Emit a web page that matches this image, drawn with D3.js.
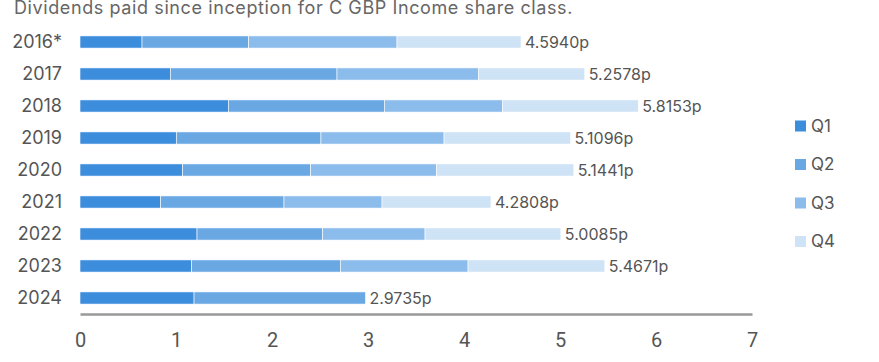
<!DOCTYPE html>
<html>
<head>
<meta charset="utf-8">
<script src="https://cdn.jsdelivr.net/npm/d3@7"></script>
<style>
  body { margin: 0; background: #fff; }
  svg { display: block; font-family: Inter, "Noto Sans", sans-serif; }
</style>
</head>
<body>
<svg id="chart" width="879" height="362"></svg>
<script>
const years = ["2016*", "2017", "2018", "2019", "2020", "2021", "2022", "2023", "2024"];
const q1 = [0.646, 0.941, 1.545, 1.003, 1.069, 0.840, 1.219, 1.163, 1.188];
const q2 = [1.111, 1.736, 1.625, 1.507, 1.334, 1.285, 1.308, 1.549, 1.786];
const q3 = [1.545, 1.472, 1.229, 1.282, 1.309, 1.021, 1.067, 1.330, 0];
const q4 = [1.292, 1.109, 1.416, 1.318, 1.432, 1.135, 1.415, 1.425, 0];
const totals = ["4.5940p", "5.2578p", "5.8153p", "5.1096p", "5.1441p", "4.2808p", "5.0085p", "5.4671p", "2.9735p"];
const quarters = ["Q1", "Q2", "Q3", "Q4"];
const colors = ["#3d8ddd", "#6aa8e4", "#8bbcec", "#cfe3f6"];

const svg = d3.select("#chart");

// title, top edge cropped like the source
svg.append("text")
  .attr("x", 14).attr("y", 14)
  .attr("font-size", 18).attr("letter-spacing", 0.6).attr("fill", "#666")
  .text("Dividends paid since inception for C GBP Income share class.");

const rows = years.map((y, i) => ({ year: y, Q1: q1[i], Q2: q2[i], Q3: q3[i], Q4: q4[i], label: totals[i] }));
const stacked = d3.stack().keys(quarters)(rows);

const x = d3.scaleLinear().domain([0, 7]).range([80, 752]);
const y = d3.scaleBand().domain(years).range([26, 314]).paddingInner(0.62).paddingOuter(0.31);

// bars
svg.append("g").selectAll("g")
  .data(stacked)
  .join("g")
  .attr("fill", (d, i) => colors[i])
  .selectAll("rect")
  .data(d => d.filter(s => s[1] > s[0]))
  .join("rect")
  .attr("x", d => x(d[0]))
  .attr("y", d => y(d.data.year))
  .attr("width", d => x(d[1]) - x(d[0]))
  .attr("height", y.bandwidth())
  .attr("stroke", "#fff")
  .attr("stroke-width", 0.6);

// value labels
svg.append("g").selectAll("text")
  .data(stacked[3])
  .join("text")
  .attr("x", d => x(d[1]) + 4)
  .attr("y", d => y(d.data.year) + y.bandwidth() / 2)
  .attr("dy", "0.35em")
  .attr("font-size", 16).attr("fill", "#555")
  .text(d => d.data.label);

// year labels
svg.append("g")
  .attr("transform", "translate(62,0)")
  .call(d3.axisLeft(y).tickSize(0).tickPadding(0))
  .call(g => g.select(".domain").remove())
  .selectAll("text")
  .attr("font-size", 18).attr("fill", "#555").attr("font-family", "Inter, sans-serif");

// x axis
const xAxis = svg.append("g")
  .attr("transform", "translate(0,314)")
  .call(d3.axisBottom(x).ticks(7).tickSize(0).tickPadding(19));
xAxis.select(".domain").attr("stroke", "#999").attr("stroke-width", 2.5);
xAxis.selectAll("text")
  .attr("font-size", 20).attr("fill", "#555")
  .attr("font-family", "'Liberation Sans Narrow', 'Roboto', sans-serif");

// legend
const legend = svg.append("g").selectAll("g")
  .data(quarters)
  .join("g")
  .attr("transform", (d, i) => `translate(795,${126 + i * 38.5})`);
legend.append("rect")
  .attr("x", 0).attr("y", -5.5).attr("width", 11).attr("height", 11)
  .attr("fill", (d, i) => colors[i]);
legend.append("text")
  .attr("x", 16).attr("dy", "0.35em")
  .attr("font-size", 17).attr("fill", "#555")
  .text(d => d);
</script>
</body>
</html>
